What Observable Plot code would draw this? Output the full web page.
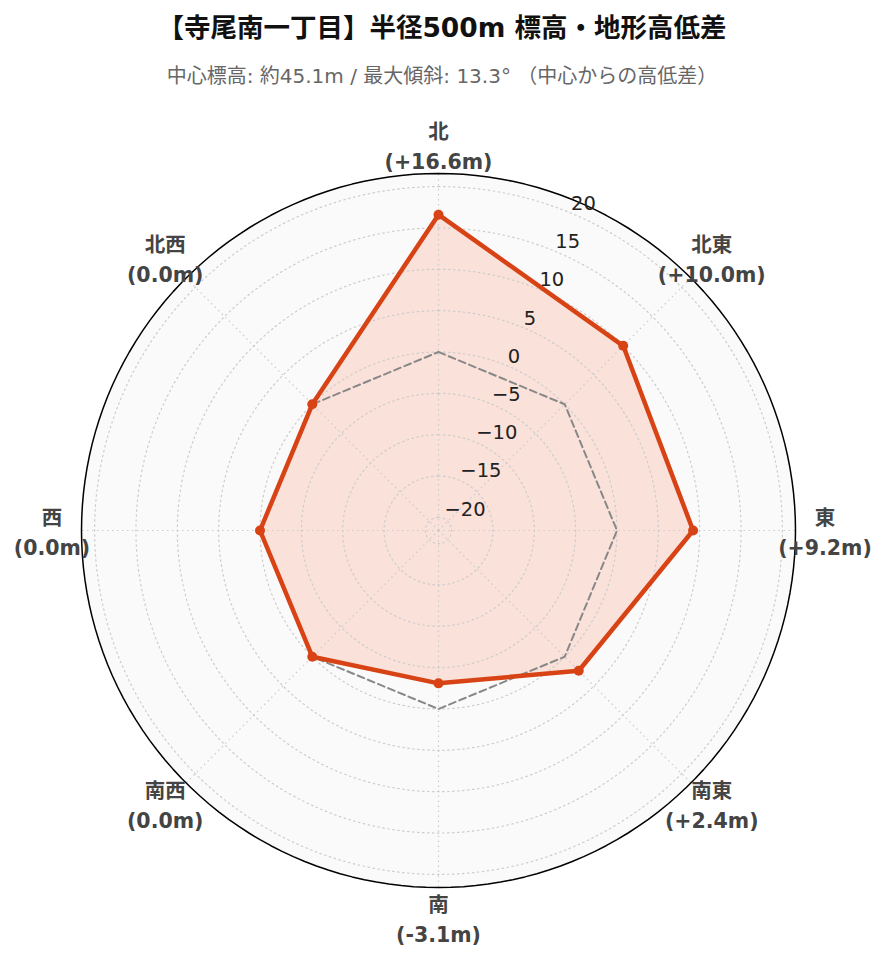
<!DOCTYPE html>
<html>
<head>
<meta charset="utf-8">
<script src="https://cdn.jsdelivr.net/npm/d3@7"></script>
<script src="https://cdn.jsdelivr.net/npm/@observablehq/plot@0.6"></script>
<style>
  html, body { margin: 0; padding: 0; background: #fff; }
  body { width: 884px; height: 962px; overflow: hidden; font-family: "DejaVu Sans", "Noto Sans CJK JP", sans-serif; }
  #title { height: 56px; line-height: 56px; text-align: center; font-size: 26.5px; font-weight: bold; color: #111; }
  #subtitle { height: 40px; line-height: 40px; text-align: center; font-size: 20px; color: #666; }
  #chart { margin-top: 4px; }
</style>
</head>
<body>
<div id="title">【寺尾南一丁目】半径500m 標高・地形高低差</div>
<div id="subtitle">中心標高: 約45.1m / 最大傾斜: 13.3° （中心からの高低差）</div>
<div id="chart"></div>
<script>
// ---- data ----
const directions = ["北", "北東", "東", "南東", "南", "南西", "西", "北西"];
const angles = [0, 45, 90, 135, 180, 225, 270, 315]; // degrees clockwise from north
const diffs = [16.6, 10.0, 9.2, 2.4, -3.1, 0.0, 0.0, 0.0]; // m relative to centre
const radialTicks = [-20, -15, -10, -5, 0, 5, 10, 15, 20];
const radialRange = [-21.58, 21.58];
const tickAngle = 22.5;

// ---- geometry helpers (radial axis offset so range min is at centre) ----
const rho = v => v - radialRange[0];
const rhoMax = rho(radialRange[1]);
const rad = a => a * Math.PI / 180;
const px = (r, a) => r * Math.sin(rad(a));
const py = (r, a) => r * Math.cos(rad(a));

const fmt = v => (v > 0 ? "+" : "") + v.toFixed(1) + "m";
const tickFmt = v => (v < 0 ? "\u2212" + Math.abs(v) : String(v));

const pts = directions.map((d, i) => ({dir: d, a: angles[i], v: diffs[i]}));
const closed = [...pts, pts[0]];
const zeroClosed = closed.map(p => ({a: p.a, v: 0}));

const circle = (r, key) => d3.range(0, 361, 2).map(a => ({a, r, key}));
const gridCircles = radialTicks.flatMap(t => circle(rho(t), t));
const outer = circle(rhoMax, "outer");

const W = 884, H = 862;
const unit = 357 / rhoMax; // px per radial unit
const cx = 438, cy = 430;

const plot = Plot.plot({
  width: W, height: H,
  margin: 0,
  x: {domain: [-cx / unit, (W - cx) / unit], range: [0, W], axis: null},
  y: {domain: [-(H - cy) / unit, cy / unit], range: [H, 0], axis: null},
  style: {fontFamily: "DejaVu Sans, Noto Sans CJK JP, sans-serif", background: "transparent"},
  marks: [
    // polar background
    Plot.line(outer, {x: d => px(d.r, d.a), y: d => py(d.r, d.a), fill: "#fafafa", stroke: "none"}),
    // data fill
    Plot.line(closed, {x: d => px(rho(d.v), d.a), y: d => py(rho(d.v), d.a), fill: "#ff5722", fillOpacity: 0.15, stroke: "none"}),
    // grid circles
    Plot.line(gridCircles, {x: d => px(d.r, d.a), y: d => py(d.r, d.a), z: "key", stroke: "#cccccc", strokeWidth: 1.2, strokeDasharray: "1.5,3.5"}),
    // angular grid
    Plot.link(angles, {x1: 0, y1: 0, x2: a => px(rhoMax, a), y2: a => py(rhoMax, a), stroke: "#cccccc", strokeWidth: 1.2, strokeDasharray: "1.5,3.5"}),
    // outer circle
    Plot.line(outer, {x: d => px(d.r, d.a), y: d => py(d.r, d.a), stroke: "#000", strokeWidth: 1.5}),
    // zero reference
    Plot.line(zeroClosed, {x: d => px(rho(d.v), d.a), y: d => py(rho(d.v), d.a), stroke: "#888", strokeWidth: 2, strokeDasharray: "7,4"}),
    // data line
    Plot.line(closed, {x: d => px(rho(d.v), d.a), y: d => py(rho(d.v), d.a), stroke: "#d84315", strokeWidth: 4.5, strokeLinejoin: "round"}),
    Plot.dot(pts, {x: d => px(rho(d.v), d.a), y: d => py(rho(d.v), d.a), r: 5, fill: "#d84315", stroke: "none"}),
    // radial tick labels
    Plot.text(radialTicks, {x: t => px(rho(t), tickAngle), y: t => py(rho(t), tickAngle), text: tickFmt, textAnchor: "start", dx: 1, dy: -9, fontSize: 19.5, fill: "#222"}),
    // direction labels
    Plot.text(pts, {x: d => px(rhoMax + 29.5 / unit, d.a), y: d => py(rhoMax + 29.5 / unit, d.a), text: d => d.dir + "\n(" + fmt(d.v) + ")", fontSize: 20.5, fontWeight: "bold", lineHeight: 1.46, fill: "#444"})
  ]
});
document.getElementById("chart").appendChild(plot);
</script>
</body>
</html>
